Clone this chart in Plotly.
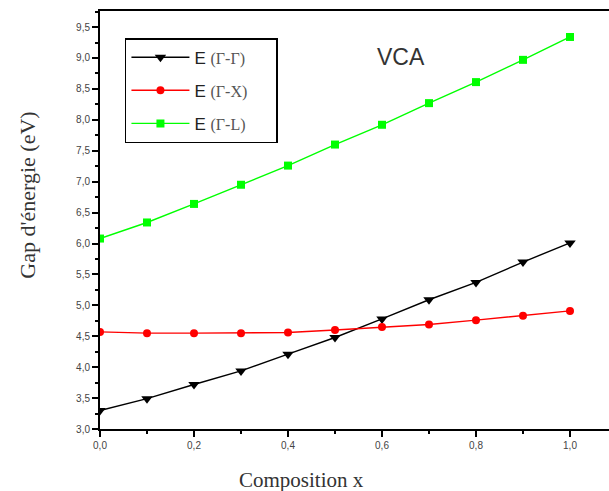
import plotly.graph_objects as go

# Composition x of the alloy
composition = [0.0, 0.1, 0.2, 0.3, 0.4, 0.5, 0.6, 0.7, 0.8, 0.9, 1.0]

# Band gaps (eV) in the virtual crystal approximation
gap_gamma_gamma = [3.30, 3.49, 3.72, 3.94, 4.21, 4.48, 4.78, 5.09, 5.37, 5.70, 6.01]
gap_gamma_x = [4.57, 4.55, 4.55, 4.55, 4.56, 4.60, 4.65, 4.69, 4.76, 4.83, 4.91]
gap_gamma_l = [6.08, 6.34, 6.64, 6.95, 7.26, 7.60, 7.92, 8.27, 8.61, 8.97, 9.34]

series_names = ["(Γ-Γ)", "(Γ-X)", "(Γ-L)"]
y_tick_values = [3.0, 3.5, 4.0, 4.5, 5.0, 5.5, 6.0, 6.5, 7.0, 7.5, 8.0, 8.5, 9.0, 9.5]
x_tick_values = [0.0, 0.2, 0.4, 0.6, 0.8, 1.0]

serif = "Liberation Serif, Times New Roman, serif"
sans = "Liberation Sans, Arial, sans-serif"


def legend_label(sub):
    return ("E <span style='font-family:Liberation Serif;font-size:16px;color:#555'>"
            + sub + "</span>" + "\u00a0" * 5)


styles = [
    dict(color="black", symbol="triangle-down", size=10),
    dict(color="#ff0000", symbol="circle", size=8),
    dict(color="#00ff00", symbol="square", size=8),
]

fig = go.Figure()
for i, (vals, name) in enumerate(zip([gap_gamma_gamma, gap_gamma_x, gap_gamma_l], series_names)):
    st = styles[i]
    fig.add_trace(go.Scatter(
        x=composition, y=vals, mode="lines+markers",
        name=legend_label(name), legendgroup=f"g{i}",
        line=dict(color=st["color"], width=1.4),
        marker=dict(color=st["color"], symbol=st["symbol"], size=st["size"]),
    ))

fig.add_annotation(x=0.64, y=9.02, xref="x", yref="y", text="VCA", showarrow=False,
                   font=dict(family=sans, size=23, color="#333"))

# Axis titles
fig.add_annotation(x=-0.142, y=0.56, xref="paper", yref="paper", text="Gap d'énergie (eV)",
                   textangle=-90, showarrow=False, xanchor="center", yanchor="middle",
                   font=dict(family=serif, size=22, color="#333"))
fig.add_annotation(x=0.395, y=-0.122, xref="paper", yref="paper", text="Composition x",
                   showarrow=False, xanchor="center", yanchor="middle",
                   font=dict(family=serif, size=21, color="#333"))

fig.update_layout(
    width=609, height=491,
    margin=dict(l=100, r=0, t=11, b=62),
    paper_bgcolor="white", plot_bgcolor="white",
    separators=", ",
    showlegend=True,
    legend=dict(
        x=0.049, y=0.935, xanchor="left", yanchor="top",
        bordercolor="black", borderwidth=1.5, bgcolor="white",
        font=dict(family=sans, size=17, color="#222"),
        tracegroupgap=8, itemwidth=58,
    ),
    xaxis=dict(
        range=[0, 1.083], tickvals=x_tick_values, tickformat=".1f",
        showgrid=False, zeroline=False,
        showline=True, linecolor="black", linewidth=2, mirror=True,
        ticks="outside", ticklen=6, tickwidth=1.5, tickcolor="black",
        tickfont=dict(family=sans, size=10, color="#444"),
        minor=dict(dtick=0.1, ticks="outside", ticklen=3, tickcolor="black", tickwidth=1.5),
    ),
    yaxis=dict(
        range=[3.0, 9.76], tickvals=y_tick_values, tickformat=".1f",
        showgrid=False, zeroline=False,
        showline=True, linecolor="black", linewidth=2,
        ticks="outside", ticklen=6, tickwidth=1.5, tickcolor="black",
        tickfont=dict(family=sans, size=10, color="#444"),
        minor=dict(dtick=0.25, ticks="outside", ticklen=3, tickcolor="black", tickwidth=1.5),
    ),
)

fig.write_html("out.html")
